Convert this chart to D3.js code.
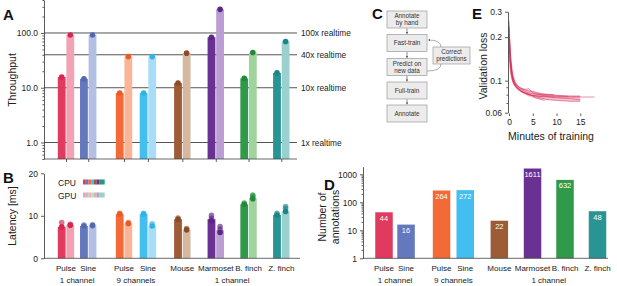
<!DOCTYPE html>
<html><head><meta charset="utf-8">
<script src="https://cdn.jsdelivr.net/npm/d3@7"></script>
<style>
body{margin:0;background:#fff}
svg{display:block;font-family:"Liberation Sans",Arial,Helvetica,sans-serif}
</style></head><body>
<svg id="c" width="617" height="286"></svg>
<script>
// ---------- DATA ----------
const categories = ["Pulse","Sine","Pulse","Sine","Mouse","Marmoset","B. finch","Z. finch"];
const groupLabels = ["1 channel","9 channels","1 channel"];
const throughputCPU = [15.7,14.5,8.0,8.0,12.2,83.5,14.8,18.7];
const throughputGPU = [92,92,37,37,42.8,270,44,70];
const throughputTicks = [1,10,100];
const realtimeLevels = [1,10,40,100];
const realtimeLabels = ["1x realtime","10x realtime","40x realtime","100x realtime"];
const latencyCPU = [7.4,7.6,10.4,10.4,9.2,9.2,12.7,10.2];
const latencyGPU = [7.8,7.7,8.2,7.6,6.7,6.6,14.2,11.0];
const latencyCPUReps = [[7.4,8.4],[7.6,7.8],[10.4,10.6],[10.4,10.6],[9.2,9.5],[8.8,9.4,10.1],[12.7,13.0],[10.2,10.6]];
const latencyGPUReps = [[7.8,8.0],[7.7,7.9],[8.2,8.4],[7.6,8.1],[6.7,7.0],[6.1,6.8,7.5],[14.0,14.6,14.9],[11.0,11.7,12.2]];
const latencyTicks = [0,10,20];
const annotations = [44,16,264,272,22,1611,632,48];
const annotationTicks = [1,10,100,1000];
const cpuColors = ["#e03a5e","#6378bd","#f26b36","#42bfee","#9b5c36","#6b3192","#2f9a49","#2a9393"];
const gpuColors = ["#f2a2b3","#b4bfe4","#f8b597","#a7ddf6","#d6b7a0","#ba9ed3","#9fd49d","#9bd0d0"];
const dotColors = ["#d72650","#5468b2","#ea5a25","#2fb2e6","#8a4b26","#5c2585","#218a3a","#1c8585"];
const flowSteps = [["Annotate","by hand"],["Fast-train"],["Predict on","new data"],["Full-train"],["Annotate"]];
const flowSide = ["Correct","predictions"];
const lossTicks = [0.06,0.1,0.2,0.3];
const minuteTicks = [0,5,10,15];
const lossCurves = [
 [[0,0.26],[0.1,0.21],[0.25,0.16],[0.45,0.125],[0.7,0.108],[1.1,0.097],[1.7,0.09],[2.5,0.085],[3.5,0.082],[5,0.079],[7,0.078],[10,0.077],[13,0.077],[15,0.077],[18,0.077]],
 [[0,0.23],[0.15,0.18],[0.35,0.135],[0.6,0.112],[1.0,0.1],[1.5,0.093],[2.5,0.088],[3.5,0.087],[4.2,0.088],[5,0.082],[7,0.079],[10,0.078],[13,0.078],[15,0.078]],
 [[0,0.2],[0.15,0.16],[0.4,0.12],[0.8,0.1],[1.3,0.092],[2,0.087],[3,0.083],[4.5,0.08],[5.5,0.076],[7.5,0.073]],
 [[0,0.18],[0.2,0.14],[0.5,0.11],[0.9,0.097],[1.5,0.09],[2.5,0.084],[4,0.08],[6,0.077],[8,0.074],[10,0.073],[13,0.072],[15,0.072]],
 [[0,0.24],[0.2,0.17],[0.45,0.13],[0.8,0.108],[1.3,0.097],[2,0.091],[3,0.087],[4,0.085],[5,0.084],[6,0.082],[8,0.08],[10,0.079],[12.5,0.078]],
 [[0,0.16],[0.2,0.125],[0.5,0.105],[1.0,0.094],[1.7,0.088],[2.7,0.084],[4,0.08],[6,0.078],[8,0.077],[10,0.076],[13,0.075],[15,0.074]],
 [[0,0.21],[0.2,0.155],[0.5,0.118],[0.9,0.1],[1.5,0.092],[2.5,0.087],[3.8,0.083],[5,0.081],[7,0.08],[9.5,0.08]]
];
const bandT  = [0,0.25,0.5,1,1.5,2,3,4,5,7,10,13,15];
const bandLo = [0.16,0.125,0.105,0.094,0.088,0.085,0.081,0.078,0.076,0.074,0.073,0.072,0.072];
const bandHi = [0.26,0.19,0.14,0.108,0.097,0.092,0.088,0.086,0.085,0.082,0.08,0.079,0.079];

// ---------- LAYOUT ----------
const svg = d3.select("#c");
const FONT = "'Liberation Sans',Arial,Helvetica,sans-serif";
const TXT = "#222";
const slot = [0,0.95,2.48,3.5,4.97,6.4,7.8,9.2];
const idx = d3.range(categories.length);

function styleAxis(g, fs){
  g.selectAll("path.domain").attr("stroke","#333").attr("stroke-width",0.8);
  g.selectAll(".tick line").attr("stroke","#333").attr("stroke-width",0.8);
  g.selectAll(".tick text").attr("fill",TXT).style("font-size",fs+"px").style("font-family",FONT);
}
function panelLetter(t,x,y){
  svg.append("text").attr("x",x).attr("y",y).text(t).attr("font-weight","bold")
    .style("font-size","15px").attr("fill","#111");
}
function catLabels(xs, y){
  const g = svg.append("g");
  idx.forEach(i=>{
    g.append("text").attr("x",xs(slot[i])).attr("y",y).attr("text-anchor","middle")
      .style("font-size","8px").attr("fill",TXT).text(categories[i]);
  });
  const grp = [[0,1],[2,3],[5,6]];
  grp.forEach((p,k)=>{
    g.append("text").attr("x",(xs(slot[p[0]])+xs(slot[p[1]]))/2).attr("y",y+12)
      .attr("text-anchor","middle").style("font-size","8px").attr("fill",TXT).text(groupLabels[k]);
  });
}

// ---------- PANEL A ----------
const xA = d3.scaleLinear().domain([0,9.2]).range([66,281.3]);
const yA = d3.scaleLog().domain([0.5,400]).range([159,0]);
const axL = 44, bw = 7.8;
realtimeLevels.forEach((v,i)=>{
  svg.append("line").attr("x1",axL).attr("x2",297).attr("y1",yA(v)).attr("y2",yA(v))
    .attr("stroke","#555").attr("stroke-width",1);
  svg.append("text").attr("x",301).attr("y",yA(v)+3).style("font-size","8.3px").attr("fill",TXT).text(realtimeLabels[i]);
});
idx.forEach(i=>{
  const c = xA(slot[i]);
  svg.append("rect").attr("x",c-bw-0.4).attr("width",bw).attr("y",yA(throughputCPU[i]))
    .attr("height",yA(0.5)-yA(throughputCPU[i])).attr("fill",cpuColors[i]);
  svg.append("rect").attr("x",c+0.4).attr("width",bw).attr("y",yA(throughputGPU[i]))
    .attr("height",yA(0.5)-yA(throughputGPU[i])).attr("fill",gpuColors[i]);
  svg.append("circle").attr("cx",c-bw/2-0.4).attr("cy",yA(throughputCPU[i])).attr("r",2.8).attr("fill",dotColors[i]);
  svg.append("circle").attr("cx",c+bw/2+0.4).attr("cy",yA(throughputGPU[i])).attr("r",2.8).attr("fill",dotColors[i]);
});
svg.append("line").attr("x1",axL).attr("x2",297).attr("y1",159).attr("y2",159).attr("stroke","#444").attr("stroke-width",0.8);
const gAx = svg.append("g").attr("transform","translate(0,159)")
  .call(d3.axisBottom(xA).tickValues(slot).tickSize(3).tickSizeOuter(0).tickFormat(""));
gAx.select("path.domain").remove(); styleAxis(gAx,8);
const gAy = svg.append("g").attr("transform",`translate(${axL},0)`)
  .call(d3.axisLeft(yA).tickValues(throughputTicks).tickSize(3).tickSizeOuter(0).tickFormat(d3.format(".1f")));
styleAxis(gAy,8.5);
const minorA = [0.5,0.6,0.7,0.8,0.9,2,3,4,5,6,7,8,9,20,30,40,50,60,70,80,90,200,300,400];
const gAm = svg.append("g").attr("transform",`translate(${axL},0)`)
  .call(d3.axisLeft(yA).tickValues(minorA).tickSize(1.6).tickFormat(""));
gAm.select("path.domain").remove(); styleAxis(gAm,8);
svg.append("text").attr("transform",`translate(16,80) rotate(-90)`).attr("text-anchor","middle")
  .style("font-size","10.5px").attr("fill",TXT).text("Throughput");
panelLetter("A",3,20);

// ---------- PANEL B ----------
const yB = d3.scaleLinear().domain([0,20]).range([258.3,173.3]);
idx.forEach(i=>{
  const c = xA(slot[i]);
  svg.append("rect").attr("x",c-bw-0.4).attr("width",bw).attr("y",yB(latencyCPU[i]))
    .attr("height",yB(0)-yB(latencyCPU[i])).attr("fill",cpuColors[i]);
  svg.append("rect").attr("x",c+0.4).attr("width",bw).attr("y",yB(latencyGPU[i]))
    .attr("height",yB(0)-yB(latencyGPU[i])).attr("fill",gpuColors[i]);
  latencyCPUReps[i].forEach((v,k)=>svg.append("circle").attr("cx",c-bw/2-0.4).attr("cy",yB(v)).attr("r",2.8)
    .attr("fill",dotColors[i]).attr("fill-opacity",k===0?1:0.65));
  latencyGPUReps[i].forEach((v,k)=>svg.append("circle").attr("cx",c+bw/2+0.4).attr("cy",yB(v)).attr("r",2.8)
    .attr("fill",dotColors[i]).attr("fill-opacity",k===0?1:0.65));
});
svg.append("line").attr("x1",axL).attr("x2",300).attr("y1",yB(0)).attr("y2",yB(0)).attr("stroke","#444").attr("stroke-width",0.8);
const gBy = svg.append("g").attr("transform",`translate(${axL},0)`)
  .call(d3.axisLeft(yB).tickValues(latencyTicks).tickSize(3).tickSizeOuter(0));
styleAxis(gBy,8.5);
svg.append("text").attr("transform",`translate(16,216) rotate(-90)`).attr("text-anchor","middle")
  .style("font-size","10.5px").attr("fill",TXT).text("Latency [ms]");
[["CPU",cpuColors,186],["GPU",gpuColors,199]].forEach(([lab,cols,y])=>{
  svg.append("text").attr("x",58).attr("y",y).style("font-size","8.5px").attr("fill",TXT).text(lab);
  cols.forEach((col,k)=>svg.append("rect").attr("x",83+k*2.7).attr("y",y-6.5).attr("width",2.8).attr("height",5).attr("fill",col));
});
catLabels(xA,271);
panelLetter("B",3,183);

// ---------- PANEL C ----------
const defs = svg.append("defs");
defs.append("marker").attr("id","ah").attr("viewBox","0 0 6 6").attr("refX",5).attr("refY",3)
  .attr("markerWidth",3.5).attr("markerHeight",3.5).attr("orient","auto")
  .append("path").attr("d","M0,0L6,3L0,6Z").attr("fill","#444");
const bx = 387, bwC = 40, bh = 17;
const bTops = [11,34.5,58.5,82,105];
flowSteps.forEach((lines,i)=>{
  svg.append("rect").attr("x",bx).attr("y",bTops[i]).attr("width",bwC).attr("height",bh)
    .attr("fill","#ececec").attr("stroke","#9a9a9a").attr("stroke-width",0.7);
  const cy = bTops[i]+bh/2;
  lines.forEach((t,k)=>svg.append("text").attr("x",bx+bwC/2).attr("y",cy+2.2+(k-(lines.length-1)/2)*7)
    .attr("text-anchor","middle").style("font-size","6.3px").attr("fill","#333").text(t));
  if(i<flowSteps.length-1){
    svg.append("line").attr("x1",bx+bwC/2).attr("x2",bx+bwC/2).attr("y1",bTops[i]+bh+0.5).attr("y2",bTops[i+1]-0.8)
      .attr("stroke","#444").attr("stroke-width",0.6).attr("marker-end","url(#ah)");
  }
});
svg.append("rect").attr("x",433).attr("y",47).attr("width",37).attr("height",17)
  .attr("fill","#ececec").attr("stroke","#9a9a9a").attr("stroke-width",0.7);
flowSide.forEach((t,k)=>svg.append("text").attr("x",451.5).attr("y",53.5+k*7).attr("text-anchor","middle")
  .style("font-size","6.3px").attr("fill","#333").text(t));
svg.append("path").attr("d","M427,71 Q441,71 441,64").attr("fill","none").attr("stroke","#777").attr("stroke-width",0.6);
svg.append("path").attr("d","M441,47 Q441,40 428.5,40").attr("fill","none").attr("stroke","#777").attr("stroke-width",0.6)
  .attr("marker-end","url(#ah)");
panelLetter("C",372,19);

// ---------- PANEL E ----------
const xE = d3.scaleLinear().domain([0,18]).range([509,594.5]);
const yE = d3.scaleLog().domain([0.06,0.3]).range([112.7,11.7]);
const bandData = bandT.map((t,i)=>({t,lo:bandLo[i],hi:bandHi[i]}));
svg.append("path").datum(bandData).attr("d",d3.area().x(d=>xE(d.t)).y0(d=>yE(d.lo)).y1(d=>yE(d.hi)))
  .attr("fill","#ee8ea6").attr("fill-opacity",0.5);
lossCurves.forEach(cv=>{
  svg.append("path").datum(cv).attr("d",d3.line().x(d=>xE(d[0])).y(d=>yE(d[1])))
    .attr("fill","none").attr("stroke","#d42a55").attr("stroke-opacity",0.6).attr("stroke-width",0.9);
});
const gEy = svg.append("g").attr("transform","translate(508,0)")
  .call(d3.axisLeft(yE).tickValues(lossTicks).tickSize(3).tickSizeOuter(0).tickFormat(d3.format("")));
styleAxis(gEy,8.5);
const gEm = svg.append("g").attr("transform","translate(508,0)")
  .call(d3.axisLeft(yE).tickValues([0.07,0.08,0.09]).tickSize(1.6).tickFormat(""));
gEm.select("path.domain").remove(); styleAxis(gEm,8);
const gEx = svg.append("g").attr("transform","translate(0,113.5)")
  .call(d3.axisBottom(xE).tickValues(minuteTicks).tickSize(2.5).tickSizeOuter(0));
gEx.select("path.domain").remove(); styleAxis(gEx,8.5);
svg.append("text").attr("x",551).attr("y",140).attr("text-anchor","middle").style("font-size","10.5px").attr("fill",TXT).text("Minutes of training");
svg.append("text").attr("transform","translate(487,66) rotate(-90)").attr("text-anchor","middle")
  .style("font-size","10.5px").attr("fill",TXT).text("Validation loss");
panelLetter("E",472,19);

// ---------- PANEL D ----------
const xD = d3.scaleLinear().domain([0,9.2]).range([384,597.5]);
const yD = d3.scaleLog().domain([1,1870]).range([258.3,166.7]);
const bwD = 17.5;
idx.forEach(i=>{
  const c = xD(slot[i]);
  svg.append("rect").attr("x",c-bwD/2).attr("width",bwD).attr("y",yD(annotations[i]))
    .attr("height",yD(1)-yD(annotations[i])).attr("fill",cpuColors[i]);
  svg.append("text").attr("x",c).attr("y",yD(annotations[i])+8.5).attr("text-anchor","middle")
    .style("font-size","7.5px").attr("fill","#fff").text(annotations[i]);
});
svg.append("line").attr("x1",363).attr("x2",608).attr("y1",258.3).attr("y2",258.3).attr("stroke","#444").attr("stroke-width",0.8);
const gDy = svg.append("g").attr("transform","translate(363,0)")
  .call(d3.axisLeft(yD).tickValues(annotationTicks).tickSize(3).tickSizeOuter(0).tickFormat(d3.format("d")));
styleAxis(gDy,8.5);
const gDm = svg.append("g").attr("transform","translate(363,0)")
  .call(d3.axisLeft(yD).tickValues([2,3,4,5,6,7,8,9,20,30,40,50,60,70,80,90,200,300,400,500,600,700,800,900]).tickSize(1.5).tickFormat(""));
gDm.select("path.domain").remove(); styleAxis(gDm,8);
svg.append("text").attr("transform","translate(326,217) rotate(-90)").attr("text-anchor","middle")
  .style("font-size","10.5px").attr("fill",TXT).text("Number of");
svg.append("text").attr("transform","translate(339,217) rotate(-90)").attr("text-anchor","middle")
  .style("font-size","10.5px").attr("fill",TXT).text("annotations");
catLabels(xD,271);
panelLetter("D",324,190);
</script></body></html>
